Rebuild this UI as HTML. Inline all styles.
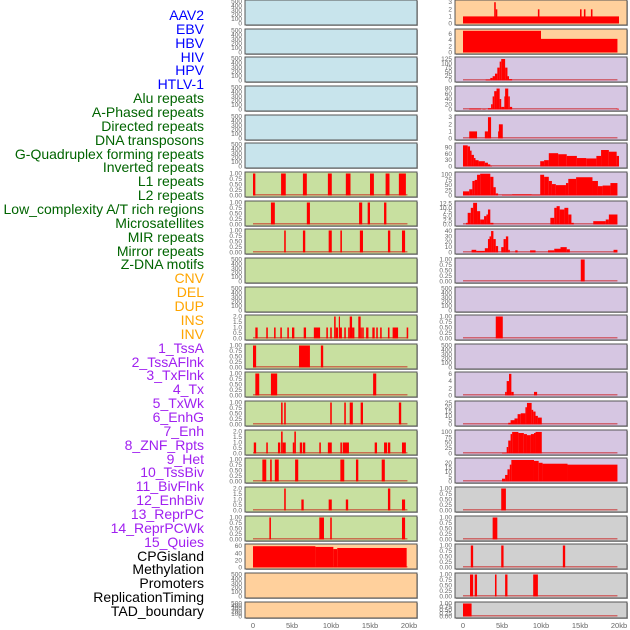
<!DOCTYPE html>
<html><head><meta charset="utf-8">
<style>
html,body{margin:0;padding:0;background:#fff;width:630px;height:630px;overflow:hidden}
#labels{position:absolute;left:0;top:0;width:204px;font-family:"Liberation Sans",sans-serif;font-size:14px;text-align:right}
#labels div{position:absolute;right:0;white-space:nowrap;line-height:14px}
svg{position:absolute;left:0;top:0}
</style></head><body>
<div id="labels"></div>
<svg id="chart" width="630" height="630"></svg>
<script>
const trackLabels = ["AAV2","EBV","HBV","HIV","HPV","HTLV-1","Alu repeats","A-Phased repeats","Directed repeats","DNA transposons","G-Quadruplex forming repeats","Inverted repeats","L1 repeats","L2 repeats","Low_complexity A/T rich regions","Microsatellites","MIR repeats","Mirror repeats","Z-DNA motifs","CNV","DEL","DUP","INS","INV","1_TssA","2_TssAFlnk","3_TxFlnk","4_Tx","5_TxWk","6_EnhG","7_Enh","8_ZNF_Rpts","9_Het","10_TssBiv","11_BivFlnk","12_EnhBiv","13_ReprPC","14_ReprPCWk","15_Quies","CPGisland","Methylation","Promoters","ReplicationTiming","TAD_boundary"];
const labelGroups = [6,13,5,15,5];
const groupColors = ["#0000ff","#006400","#ffa500","#a020f0","#000000"];

const xTicks = [0,5,10,15,20];
const xTickLabels = ["0","5kb","10kb","15kb","20kb"];

const tEmpty = [0,100,200,300,400,500];
const tBin = [0,0.25,0.5,0.75,1];
const tTwo = [0,0.5,1,1.5,2];

// left column series [startKb, endKb, value]
const L_L1 = [[0,0.3,1],[3.6,4.2,1],[6.4,6.9,1],[9.6,10.1,1],[11.9,12.5,1],[15,15.5,1],[17,17.5,1],[18.7,19.6,1]];
const L_L2 = [[2.3,2.8,1],[6.9,7.3,1],[13.6,14,1],[14.7,15,1],[16.8,17.1,1]];
const L_LowC = [[4,4.2,1],[6.4,6.7,1],[9.7,10.1,1],[11.2,11.4,1],[13.7,14.1,1],[17.3,17.6,1],[19.1,19.5,1]];
const L_INS = [[0.3,0.6,1],[1.7,1.9,1],[2.7,2.9,1],[3.5,3.7,1],[4.4,4.6,1],[5,5.3,1],[6.5,6.8,1],[7.8,8.6,1],[9.4,9.6,1],[9.9,10.1,1],[10.4,10.6,2],[10.6,10.9,1],[11,11.1,2],[11.1,11.4,1],[11.7,11.9,1],[12.2,12.4,1],[12.4,12.7,2],[12.7,13,1],[13.5,13.8,2],[13.8,13.9,1],[14,14.2,1],[14.5,14.8,1],[15.3,15.6,1],[15.8,16,1],[16.3,16.5,1],[17.3,17.5,1],[17.9,18.6,1],[19.7,19.9,1]];
const L_TssA = [[0,0.4,1],[5.9,7.3,1],[8.7,9,1]];
const L_TssAFlnk = [[0.3,0.8,1],[2.3,3.1,1],[15.4,15.8,1]];
const L_TxFlnk = [[3.6,3.8,1],[4,4.2,1],[9.9,10.1,1],[11.7,11.9,1],[12.4,12.8,1],[13.8,14.1,1],[18.7,19,1]];
const L_Tx = [[0.1,0.4,1],[1.7,1.9,1],[3.2,3.5,1],[3.6,3.8,2],[3.8,4.2,1],[5.1,5.3,1],[5.3,5.5,2],[6,6.3,1],[6.4,6.7,1],[8.5,8.7,1],[9.6,10.1,1],[11.2,11.4,1],[11.5,12.3,1],[15.6,15.9,1],[16.8,17.2,1],[17.3,17.6,1],[19.1,19.6,1]];
const L_TxWk = [[1.2,1.7,1],[2.2,2.4,1],[2.8,3.3,1],[5.4,5.8,1],[11.2,11.7,1],[13.2,13.5,1],[16.5,16.9,1]];
const L_EnhG = [[4,4.2,2],[6.2,6.5,1],[9.7,10.1,1],[11.9,12.2,1],[17.3,17.6,2],[19.1,19.5,1]];
const L_Enh = [[2.1,2.3,1],[8.5,9.1,1],[9.9,10.1,1],[19.1,19.5,1]];
const L_CPG = [[0,8,60],[8,10.3,58],[10.3,10.8,52],[10.8,19.7,55]];

// right column series
const R_AAV2 = [[0,20,1],[4,4.2,3],[4.2,4.4,2],[9.6,9.8,2],[15,15.2,2],[15.5,15.7,2],[16.4,16.6,2]];
const R_EBV = [[0,10,7],[10,19.8,4.4]];
const R_HIV = [[2.9,3.5,5],[3.5,3.8,15],[3.8,4.1,25],[4.1,4.4,40],[4.4,4.7,75],[4.7,4.9,110],[4.9,5.4,125],[5.4,5.7,75],[5.7,5.9,25],[5.9,6.3,8]];
const R_HPV = [[0.8,2.3,3],[2.5,2.9,2],[3.2,3.6,5],[3.6,3.8,20],[3.8,4,50],[4,4.3,70],[4.3,4.7,80],[4.7,4.9,40],[4.9,5.3,10],[5.3,5.4,50],[5.4,5.8,80],[5.8,6,50],[6,6.3,10],[19.7,20,3]];
const R_Row4 = [[0.8,1.8,1],[2.8,3.2,1],[3.2,3.6,3],[4.5,4.6,1],[4.6,5.1,2]];
const R_Row5 = [[0,0.6,100],[0.6,0.9,95],[0.9,1.1,75],[1.1,1.4,55],[1.4,1.6,40],[1.6,2,30],[2,2.8,25],[2.8,3.2,18],[3.2,3.5,10],[3.5,3.7,3],[9.9,10.4,25],[10.4,11,30],[11,12.2,63],[12.2,13.3,58],[13.3,14.6,50],[14.6,15.8,40],[15.8,17.1,38],[17.1,17.7,50],[17.7,18.7,78],[18.7,19.7,70],[19.7,20,50]];
const R_Row6 = [[0,0.8,20],[0.8,1.2,30],[1.2,1.5,70],[1.5,1.8,75],[1.8,2.2,100],[2.2,3.5,105],[3.5,3.9,90],[3.9,4.2,40],[4.2,4.5,10],[5,6.3,3],[6.3,8.8,5],[8.8,9.9,3],[9.9,10.4,100],[10.4,11,90],[11,11.4,70],[11.4,11.9,55],[11.9,13.2,50],[13.2,13.5,60],[13.5,14.5,80],[14.5,16.6,88],[16.6,17.3,70],[17.3,17.9,45],[17.9,18.9,48],[18.9,19.8,60]];
const R_Row7 = [[0.4,0.6,1],[0.6,1,7],[1,1.3,10],[1.3,1.8,13],[1.8,2.2,8],[2.2,2.7,3],[2.7,3,5],[3,3.2,6],[3.2,3.5,9],[3.5,3.9,1],[11.2,11.7,4],[11.7,12,10],[12,12.4,11],[12.4,13,9],[13,13.5,10],[13.5,13.9,6],[13.9,14.2,1],[16.7,18.3,2],[18.3,18.7,3],[18.7,19.8,6]];
const R_MIR = [[1.1,1.7,5],[1.7,2.8,3],[2.8,3.2,8],[3.2,3.4,25],[3.4,3.6,30],[3.6,3.9,40],[3.9,4.2,25],[4.2,4.5,12],[4.9,5.2,10],[5.2,5.5,25],[5.5,5.8,30],[5.8,6,5],[6.7,7,4],[8.6,9.3,4],[10.9,11.7,4],[11.7,12.5,7],[12.5,13.3,10],[13.3,13.7,6],[19.3,19.8,5]];
const R_Row9 = [[15.1,15.6,1]];
const R_Row11 = [[4.2,5.1,1]];
const R_Row13 = [[5.4,5.6,1],[5.6,5.9,4],[5.9,6.2,6],[6.2,6.5,1],[9.1,9.5,1]];
const R_Row14 = [[5.8,6.1,2],[6.1,6.6,5],[6.6,7,7],[7,7.4,12],[7.4,8,13],[8,8.2,20],[8.2,8.8,25],[8.8,9,17],[9,9.3,15],[9.3,9.6,10],[9.6,10.1,8]];
const R_Row15 = [[5,5.6,3],[5.6,5.8,30],[5.8,6.1,60],[6.1,6.3,90],[6.3,7.1,100],[7.1,7.8,95],[7.8,8.2,90],[8.2,8.7,85],[8.7,9.1,90],[9.1,9.3,95],[9.3,10.1,100]];
const R_Row16 = [[5,5.4,3],[5.4,5.7,7],[5.7,6,13],[6,6.2,18],[6.2,9.1,23],[9.1,9.7,22],[9.7,10.2,20],[10.2,13.4,19],[13.4,19.8,18]];
const R_Row17 = [[4.9,5.5,1]];
const R_Row18 = [[3.8,4.4,1]];
const R_Row19 = [[1,1.3,1],[4.9,5.2,1],[12.8,13.1,1]];
const R_Row20 = [[0.9,1.3,1],[1.5,1.8,1],[4.1,4.3,1],[5.4,5.7,1],[9,9.6,1]];
const R_Row21 = [[0,1.1,1]];

const BLUE="#c8e4ec",GREEN="#c8e0a0",ORANGE="#ffd09c",PURPLE="#d6c6e2",GREY="#d0d0d0";
const fmt2 = v=>v.toFixed(2), fmt1 = v=>v.toFixed(1), fmt0 = v=>String(v);

function P(bg,data,ticks,max,f,name){return {bg,data,ticks,max,f,name};}
const E = n=>null;
const leftSpecs = [
 P(BLUE,null,tEmpty,500,fmt0,"aav2"),P(BLUE,null,tEmpty,500,fmt0,"ebv"),P(BLUE,null,tEmpty,500,fmt0,"hbv"),
 P(BLUE,null,tEmpty,500,fmt0,"hiv"),P(BLUE,null,tEmpty,500,fmt0,"hpv"),P(BLUE,null,tEmpty,500,fmt0,"htlv"),
 P(GREEN,L_L1,tBin,1,fmt2,"l1"),P(GREEN,L_L2,tBin,1,fmt2,"l2"),P(GREEN,L_LowC,tBin,1,fmt2,"lowc"),
 P(GREEN,null,tEmpty,500,fmt0,"e1"),P(GREEN,null,tEmpty,500,fmt0,"e2"),P(GREEN,L_INS,tTwo,2,fmt1,"ins"),
 P(GREEN,L_TssA,tBin,1,fmt2,"tssa"),P(GREEN,L_TssAFlnk,tBin,1,fmt2,"tssaflnk"),P(GREEN,L_TxFlnk,tBin,1,fmt2,"txflnk"),
 P(GREEN,L_Tx,tTwo,2,fmt1,"tx"),P(GREEN,L_TxWk,tBin,1,fmt2,"txwk"),P(GREEN,L_EnhG,tTwo,2,fmt1,"enhg"),
 P(GREEN,L_Enh,tBin,1,fmt2,"enh"),P(ORANGE,L_CPG,[0,20,40,60],62,fmt0,"cpg"),
 P(ORANGE,null,tEmpty,500,fmt0,"e3"),P(ORANGE,null,tEmpty,500,fmt0,"e4")];
const rightSpecs = [
 P(ORANGE,R_AAV2,[0,1,2,3],3.1,fmt0,"r0"),P(ORANGE,R_EBV,[0,2,4,6],7.1,fmt0,"r1"),
 P(PURPLE,R_HIV,[0,25,50,75,100,125],128,fmt0,"r2"),P(PURPLE,R_HPV,[0,20,40,60,80],84,fmt0,"r3"),
 P(PURPLE,R_Row4,[0,1,2,3],3.1,fmt0,"r4"),P(PURPLE,R_Row5,[0,30,60,90],104,fmt0,"r5"),
 P(PURPLE,R_Row6,[0,25,50,75,100],106,fmt0,"r6"),P(PURPLE,R_Row7,[0,2.5,5,7.5,10,12.5],13.2,fmt1,"r7"),
 P(PURPLE,R_MIR,[0,10,20,30,40],41,fmt0,"r8"),P(PURPLE,R_Row9,tBin,1,fmt2,"r9"),
 P(PURPLE,null,tEmpty,500,fmt0,"r10"),P(PURPLE,R_Row11,tBin,1,fmt2,"r11"),
 P(PURPLE,null,tEmpty,500,fmt0,"r12"),P(PURPLE,R_Row13,[0,2,4,6],6.1,fmt0,"r13"),
 P(PURPLE,R_Row14,[0,5,10,15,20,25],25.5,fmt0,"r14"),P(PURPLE,R_Row15,[0,25,50,75,100],102,fmt0,"r15"),
 P(PURPLE,R_Row16,[0,5,10,15,20],23.5,fmt0,"r16"),P(GREY,R_Row17,tBin,1,fmt2,"r17"),
 P(GREY,R_Row18,tBin,1,fmt2,"r18"),P(GREY,R_Row19,tBin,1,fmt2,"r19"),
 P(GREY,R_Row20,tBin,1,fmt2,"r20"),P(GREY,R_Row21,tBin,1,fmt2,"r21")];

// labels
const lab = document.getElementById('labels');
let gi=0, cnt=0;
trackLabels.forEach((t,i)=>{
  while(cnt>=labelGroups[gi]){gi++;cnt=0;}
  cnt++;
  const d=document.createElement('div');
  d.textContent=t;
  d.style.top=(8+i*13.86)+'px';
  d.style.color=groupColors[gi];
  
  
  lab.appendChild(d);
});

const svg=document.getElementById('chart');
const NS="http://www.w3.org/2000/svg";
function mk(tag,attrs,parent){const e=document.createElementNS(NS,tag);for(const k in attrs)e.setAttribute(k,attrs[k]);(parent||svg).appendChild(e);return e;}

const cols=[{x0:245,x1:417,zero:253,specs:leftSpecs,tickX:242,name:"left"},{x0:455,x1:627,zero:463,specs:rightSpecs,tickX:452,name:"right"}];
const kbPx=7.8;
cols.forEach(c=>{
  const xs=kb=>c.zero+kb*kbPx;
  c.specs.forEach((s,i)=>{
    const top=Math.round(i*28.65), h=(i===21)?16:25;
    const ys=v=>top+h-1.5-v/s.max*(h-3);
    const g=mk('g',{});
    
    
    mk('rect',{x:c.x0+1,y:top+1,width:c.x1-c.x0,height:h,fill:'#b0b0b0'},g);
    mk('rect',{x:c.x0,y:top,width:c.x1-c.x0,height:h,fill:s.bg,stroke:'#555',"stroke-width":1},g);
    s.ticks.forEach(t=>{
      const tx=mk('text',{x:c.tickX,y:ys(t)+2,"font-size":6.5,fill:'#666',"text-anchor":'end',"font-family":'Liberation Sans, sans-serif'},g);
      tx.textContent=s.f(t);
      
      
    });
    if(s.data){
      mk('rect',{x:xs(0),y:ys(0)-1.5,width:xs(19.8)-xs(0),height:1.5,fill:'rgba(200,0,0,0.5)'},g);
      s.data.forEach(d=>{
        const b=mk('rect',{x:xs(d[0]),y:ys(d[2]),width:Math.max(1.2,xs(d[1])-xs(d[0])),height:ys(0)-ys(d[2]),fill:'#ff0000'},g);
        
        
      });
    }
  });
  xTicks.forEach((t,j)=>{
    const tx=mk('text',{x:xs(t),y:628,"font-size":7.5,fill:'#666',"text-anchor":'middle',"font-family":'Liberation Sans, sans-serif'});
    tx.textContent=xTickLabels[j];
    
    
  });
});
</script>
</body></html>
